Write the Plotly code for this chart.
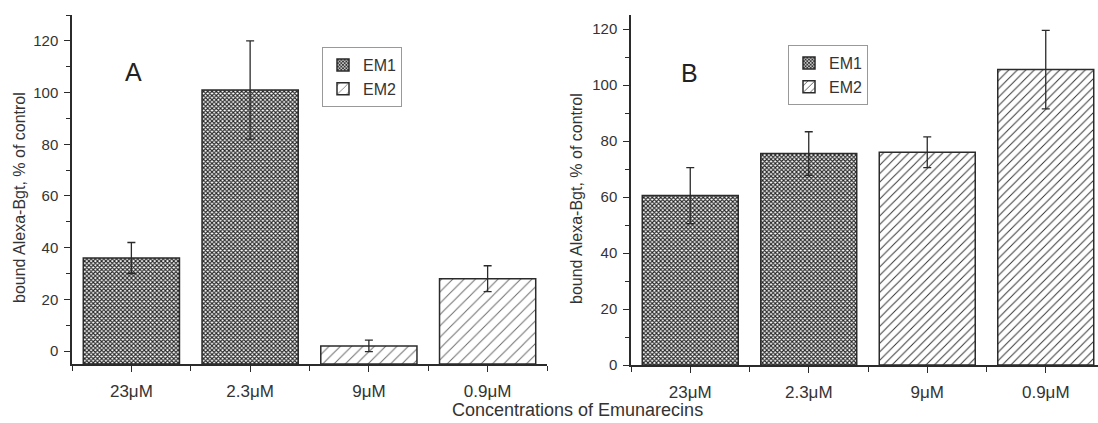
import plotly.graph_objects as go

# ---------------- data ----------------
categories = ["23μM", "2.3μM", "9μM", "0.9μM"]
cat_pos = [1, 2, 3, 4]

em1_pos = [1, 2]
em2_pos = [3, 4]

# Panel A
a_em1 = [36, 101]
a_em1_err = [6, 19]
a_em2 = [2, 28]
a_em2_err = [2.2, 5]

# Panel B
b_em1 = [60.5, 75.5]
b_em1_err = [10, 7.8]
b_em2 = [76, 105.5]
b_em2_err = [5.5, 14]

A_YMIN, A_YMAX = -5, 130
B_YMIN, B_YMAX = 0, 125

W, H = 1098, 423
FONT = "Arial, Liberation Sans, sans-serif"
DARK = "#2b2b2b"
TXT = "#333333"


def px_x(p):
    return p / W


def px_y(p):
    return 1 - p / H


fig = go.Figure()

err_style = dict(type="data", visible=True, color=DARK, thickness=1.3, width=4)


def add_bars(xs, vals, errs, base, name, pattern, xaxis, yaxis, legend, show):
    fig.add_trace(go.Bar(
        x=xs,
        y=[v - base for v in vals],
        base=base,
        width=0.81,
        name=name,
        legend=legend,
        showlegend=show,
        xaxis=xaxis,
        yaxis=yaxis,
        marker=dict(color="white", line=dict(color=DARK, width=1.5), pattern=pattern),
        error_y=dict(array=errs, **err_style),
    ))


cross = dict(shape="x", size=3, solidity=0.6, fgcolor="#262626", bgcolor="#ffffff", fillmode="replace")
hatch_a = dict(shape="/", size=8, solidity=0.12, fgcolor="#6a6a6a", bgcolor="#ffffff", fillmode="replace")
hatch_b = dict(shape="/", size=6, solidity=0.16, fgcolor="#333333", bgcolor="#ffffff", fillmode="replace")

add_bars(em1_pos, a_em1, a_em1_err, A_YMIN, "EM1", cross, "x", "y", "legend", True)
add_bars(em2_pos, a_em2, a_em2_err, A_YMIN, "EM2", hatch_a, "x", "y", "legend", True)
add_bars(em1_pos, b_em1, b_em1_err, B_YMIN, "EM1", cross, "x2", "y2", "legend2", True)
add_bars(em2_pos, b_em2, b_em2_err, B_YMIN, "EM2", hatch_b, "x2", "y2", "legend2", True)

xcommon = dict(
    tickmode="array", tickvals=cat_pos, ticktext=categories,
    showline=True, linecolor=DARK, linewidth=1.5, mirror=False, automargin=False,
    ticks="outside", ticklen=6, tickwidth=1.3, tickcolor=DARK,
    showgrid=False, zeroline=False, ticklabelstandoff=5,
    tickfont=dict(family=FONT, size=17, color=TXT),
    minor=dict(tickmode="linear", tick0=0.5, dtick=1, ticks="outside", ticklen=5,
               tickwidth=1.3, tickcolor=DARK, showgrid=False),
)
ycommon = dict(
    showline=True, linecolor=DARK, linewidth=1.5, automargin=False,
    ticks="outside", ticklen=6, tickwidth=1.3, tickcolor=DARK,
    showgrid=False, zeroline=False, dtick=20, tick0=0, ticklabelstandoff=3,
    tickfont=dict(family=FONT, size=15, color=TXT),
    minor=dict(tickmode="linear", tick0=10, dtick=20, ticks="outside", ticklen=4,
               tickwidth=1.3, tickcolor=DARK, showgrid=False),
)

legend_common = dict(xanchor="left", yanchor="top",
                     bordercolor="#999999", borderwidth=1, bgcolor="white",
                     font=dict(family=FONT, size=16, color=TXT),
                     tracegroupgap=0, itemwidth=30)

fig.update_layout(
    width=W, height=H,
    margin=dict(l=0, r=0, t=0, b=0),
    paper_bgcolor="white", plot_bgcolor="white",
    bargap=0.2,
    font=dict(family=FONT, color=TXT),
    xaxis=dict(domain=[px_x(72), px_x(547)], range=[0.5, 4.5], anchor="y", **xcommon),
    yaxis=dict(domain=[px_y(364), px_y(15)], range=[A_YMIN, A_YMAX], anchor="x", **ycommon),
    xaxis2=dict(domain=[px_x(631), 1.0], range=[0.5, 0.5 + (W - 631) / 118.5], anchor="y2", **xcommon),
    yaxis2=dict(domain=[px_y(365), px_y(15)], range=[B_YMIN, B_YMAX], anchor="x2", **ycommon),
    legend=dict(x=px_x(322), y=px_y(47), **legend_common),
    legend2=dict(x=px_x(788), y=px_y(45), **legend_common),
    annotations=[
        dict(text="A", x=px_x(133), y=px_y(72), xref="paper", yref="paper",
             xanchor="center", yanchor="middle",
             showarrow=False, font=dict(family=FONT, size=25, color="#222")),
        dict(text="B", x=px_x(689), y=px_y(73), xref="paper", yref="paper",
             xanchor="center", yanchor="middle",
             showarrow=False, font=dict(family=FONT, size=25, color="#222")),
        dict(text="bound Alexa-Bgt, % of control", textangle=-90,
             x=px_x(19), y=px_y(198), xref="paper", yref="paper",
             xanchor="center", yanchor="middle",
             showarrow=False, font=dict(family=FONT, size=16, color=TXT)),
        dict(text="bound Alexa-Bgt, % of control", textangle=-90,
             x=px_x(576), y=px_y(199), xref="paper", yref="paper",
             xanchor="center", yanchor="middle",
             showarrow=False, font=dict(family=FONT, size=16, color=TXT)),
        dict(text="Concentrations of Emunarecins",
             x=px_x(577), y=px_y(410), xref="paper", yref="paper",
             xanchor="center", yanchor="middle",
             showarrow=False, font=dict(family=FONT, size=18, color=TXT)),
    ],
)

post = "document.body.style.margin='0';document.body.style.overflow='hidden';"

fig.write_html("out.html", post_script=post, config={"displayModeBar": False})
